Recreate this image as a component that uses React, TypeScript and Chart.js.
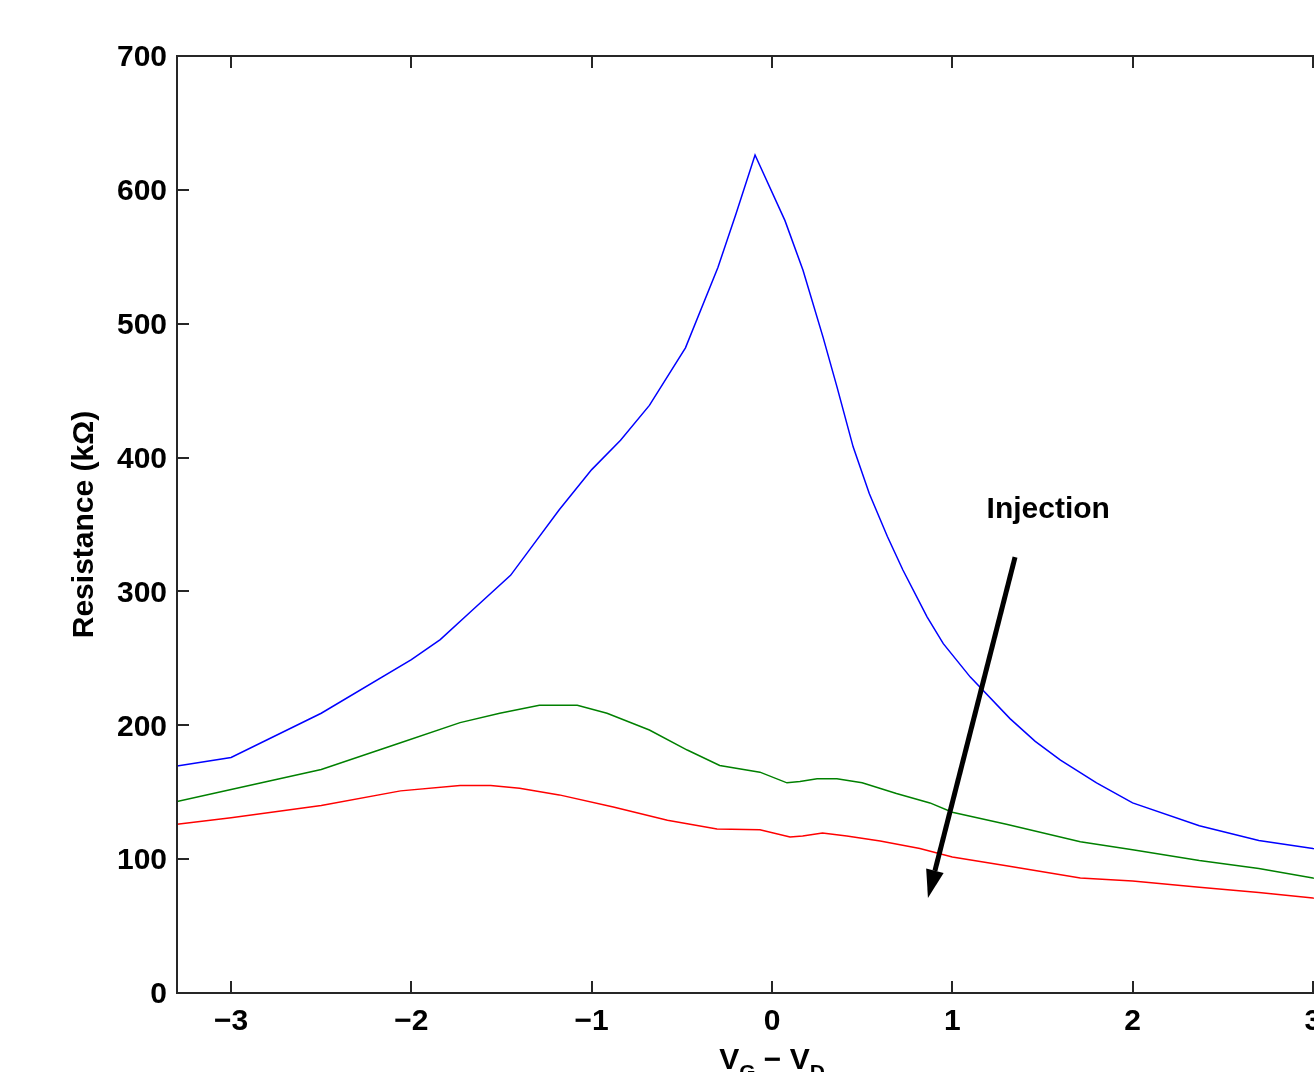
import React, { useEffect, useRef } from "react";
import { Chart, registerables } from "chart.js";
Chart.register(...registerables);

// ---- data ----
const xTicks = [-3, -2, -1, 0, 1, 2, 3];
const yTicks = [0, 100, 200, 300, 400, 500, 600, 700];

const blueX = [-3.3, -3.0, -2.5, -2.0, -1.84, -1.67, -1.45, -1.34, -1.18, -1.0, -0.84, -0.68, -0.48, -0.3, -0.2, -0.094, 0.072, 0.172, 0.283, 0.36, 0.45, 0.54, 0.64, 0.726, 0.86, 0.95, 1.1, 1.32, 1.46, 1.6, 1.8, 2.0, 2.37, 2.7, 3.0, 3.3];
const blueY = [169.6, 176, 209, 249, 264, 285, 312, 332, 361, 391, 413, 439, 482, 542, 582, 626, 577, 540, 490, 453, 408, 373, 341, 316, 281, 261, 236, 205, 188, 174, 157, 142, 125, 114, 108, 104];

const greenX = [-3.3, -3.0, -2.5, -2.06, -1.73, -1.51, -1.29, -1.08, -0.915, -0.68, -0.47, -0.29, -0.067, 0.083, 0.155, 0.25, 0.36, 0.5, 0.69, 0.876, 1.0, 1.3, 1.71, 2.0, 2.37, 2.7, 3.0, 3.3];
const greenY = [143, 152, 167, 187, 202, 209, 215, 215, 209, 196.5, 181.5, 170, 165, 157, 158, 160, 160, 157, 149, 142, 135, 126, 113, 107, 99, 93, 86, 83];

const redX = [-3.3, -3.0, -2.5, -2.06, -1.73, -1.56, -1.4, -1.18, -0.88, -0.58, -0.305, -0.067, 0.1, 0.17, 0.28, 0.415, 0.6, 0.82, 1.0, 1.3, 1.71, 2.0, 2.37, 2.7, 3.0, 3.3];
const redY = [126, 131, 140, 151, 155, 155, 153, 148, 139, 129, 122.5, 122, 116.5, 117.3, 119.5, 117.3, 113.5, 108, 101.6, 95, 86, 83.7, 79, 75, 71, 69];

const arrowStart = [1.348, 325.7];
const arrowEnd = [0.865, 71];
const injectionLabel = { text: "Injection", x: 1.19, y: 354.8 };

const yTitle = "Resistance (k\u03A9)";
const xTitleParts = [
  { t: "V", sub: false },
  { t: "G", sub: true },
  { t: " \u2212 V", sub: false },
  { t: "D", sub: true },
];

const FONT = '"Liberation Sans", Arial, Helvetica, sans-serif';

const toPts = (xs: number[], ys: number[]) => xs.map((x, i) => ({ x, y: ys[i] }));

const overlay = {
  id: "overlay",
  afterDraw(chart: any) {
    const { ctx, chartArea: a, scales } = chart;
    const x = scales.x, y = scales.y;
    ctx.save();
    // frame
    ctx.strokeStyle = "#262626";
    ctx.lineWidth = 2;
    ctx.strokeRect(a.left, a.top, a.right - a.left, a.bottom - a.top);
    // inward ticks
    const L = 12;
    ctx.beginPath();
    xTicks.forEach((v) => {
      const px = Math.round(x.getPixelForValue(v));
      ctx.moveTo(px, a.bottom);
      ctx.lineTo(px, a.bottom - L);
      ctx.moveTo(px, a.top);
      ctx.lineTo(px, a.top + L);
    });
    yTicks.forEach((v) => {
      const py = Math.round(y.getPixelForValue(v));
      ctx.moveTo(a.left, py);
      ctx.lineTo(a.left + L, py);
      ctx.moveTo(a.right, py);
      ctx.lineTo(a.right - L, py);
    });
    ctx.stroke();

    // x title with subscripts
    const mainFont = `bold 30px ${FONT}`;
    const subFont = `bold 21px ${FONT}`;
    let total = 0;
    xTitleParts.forEach((p) => {
      ctx.font = p.sub ? subFont : mainFont;
      total += ctx.measureText(p.t).width;
    });
    let cx = (a.left + a.right) / 2 - total / 2;
    const base = 1069;
    ctx.fillStyle = "#000";
    ctx.textBaseline = "alphabetic";
    ctx.textAlign = "left";
    xTitleParts.forEach((p) => {
      ctx.font = p.sub ? subFont : mainFont;
      ctx.fillText(p.t, cx, p.sub ? base + 10 : base);
      cx += ctx.measureText(p.t).width;
    });

    // arrow
    const x1 = x.getPixelForValue(arrowStart[0]);
    const y1 = y.getPixelForValue(arrowStart[1]);
    const x2 = x.getPixelForValue(arrowEnd[0]);
    const y2 = y.getPixelForValue(arrowEnd[1]);
    const ang = Math.atan2(y2 - y1, x2 - x1);
    const headLen = 28, headW = 9;
    const bx = x2 - headLen * Math.cos(ang);
    const by = y2 - headLen * Math.sin(ang);
    ctx.strokeStyle = "#000";
    ctx.lineWidth = 5;
    ctx.beginPath();
    ctx.moveTo(x1, y1);
    ctx.lineTo(bx, by);
    ctx.stroke();
    ctx.beginPath();
    ctx.moveTo(x2, y2);
    ctx.lineTo(bx + headW * Math.sin(ang), by - headW * Math.cos(ang));
    ctx.lineTo(bx - headW * Math.sin(ang), by + headW * Math.cos(ang));
    ctx.closePath();
    ctx.fillStyle = "#000";
    ctx.fill();

    // label
    ctx.font = mainFont;
    ctx.fillText(
      injectionLabel.text,
      x.getPixelForValue(injectionLabel.x),
      y.getPixelForValue(injectionLabel.y)
    );
    ctx.restore();
  },
};

export default function App() {
  const ref = useRef<HTMLCanvasElement | null>(null);
  useEffect(() => {
    if (!ref.current) return;
    const tickFont = { family: FONT, size: 30, weight: "bold" as const };
    const chart = new Chart(ref.current, {
      type: "line",
      data: {
        datasets: [
          { data: toPts(blueX, blueY), borderColor: "#0000ff", borderWidth: 1.5, pointRadius: 0, tension: 0 },
          { data: toPts(greenX, greenY), borderColor: "#008000", borderWidth: 1.5, pointRadius: 0, tension: 0 },
          { data: toPts(redX, redY), borderColor: "#ff0000", borderWidth: 1.5, pointRadius: 0, tension: 0 },
        ],
      },
      options: {
        animation: false,
        responsive: false,
        maintainAspectRatio: false,
        devicePixelRatio: 1,
        layout: { padding: { top: 56, right: 33, left: 0, bottom: 0 } },
        plugins: { legend: { display: false }, tooltip: { enabled: false } },
        scales: {
          x: {
            type: "linear",
            min: -3.3,
            max: 3.3,
            afterBuildTicks: (s: any) => {
              s.ticks = xTicks.map((v) => ({ value: v }));
            },
            afterFit: (s: any) => {
              s.height = 107;
            },
            grid: { display: false, drawTicks: false },
            border: { display: false },
            ticks: {
              padding: 11,
              color: "#000",
              font: tickFont,
              maxRotation: 0,
              autoSkip: false,
              callback: (v: any) => (Number(v) < 0 ? "\u2212" + Math.abs(Number(v)) : String(v)),
            },
          },
          y: {
            type: "linear",
            min: 0,
            max: 700,
            afterBuildTicks: (s: any) => {
              s.ticks = yTicks.map((v) => ({ value: v }));
            },
            afterFit: (s: any) => {
              s.width = 177;
            },
            grid: { display: false, drawTicks: false },
            border: { display: false },
            ticks: { padding: 10, color: "#000", font: tickFont, autoSkip: false, labelOffset: 2 },
            title: {
              display: true,
              text: yTitle,
              color: "#000",
              font: tickFont,
              padding: { top: 67, bottom: 0 },
            },
          },
        },
      },
      plugins: [overlay],
    });
    return () => chart.destroy();
  }, []);
  return (
    <div
      style={{
        position: "fixed",
        left: 0,
        top: 0,
        width: 1314,
        height: 1072,
        overflow: "hidden",
        background: "#fff",
      }}
    >
      <canvas ref={ref} width={1400} height={1100} style={{ width: 1400, height: 1100, display: "block" }} />
    </div>
  );
}
